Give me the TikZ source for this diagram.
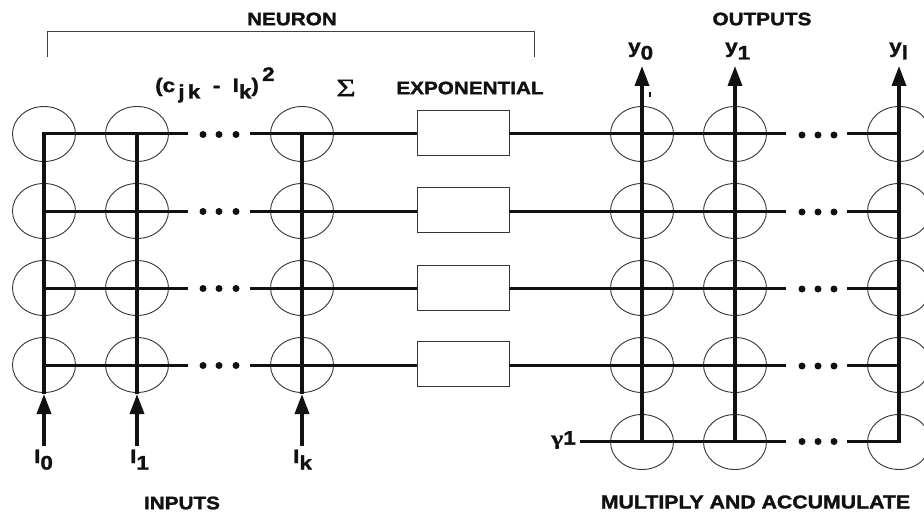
\documentclass[tikz,border=0pt]{standalone}
\usepackage{fontspec}
\setmainfont{Liberation Sans}[FakeStretch=1.15,FakeBold=1.6]
\newfontfamily\sigmafont{Liberation Serif}[FakeStretch=1.35,FakeBold=0.8]
\usetikzlibrary{shapes.geometric,arrows.meta}
\definecolor{ink}{HTML}{111111}
\newcommand{\lsub}[1]{\raisebox{-6.5pt}{#1}}
\newcommand{\lsup}[1]{\raisebox{11pt}{#1}}
\tikzset{
  cell/.style={draw=ink!85,ellipse,line width=0.9pt,minimum width=63pt,minimum height=55pt,inner sep=0pt},
  expbox/.style={draw=ink!85,rectangle,line width=0.9pt,minimum width=92pt,minimum height=45pt,inner sep=0pt},
  wire/.style={draw=ink,line width=3pt},
  bus/.style={draw=ink,line width=3.5pt},
  flow/.style={bus,-{Triangle[length=20pt,width=14pt]}},
  dot/.style={circle,fill=ink,inner sep=0pt,minimum size=7pt},
  lab/.style={font=\fontsize{18}{20}\selectfont\bfseries,text=ink,inner sep=0pt},
  sym/.style={font=\fontsize{19.5}{21}\selectfont\bfseries,text=ink,inner sep=0pt},
  bracket/.style={draw=ink!80,line width=0.9pt}
}
\begin{document}
\begin{tikzpicture}[x=1pt,y=-1pt]
\path[use as bounding box,clip] (0,0) rectangle (924,516);
\fill[white] (0,0) rectangle (924,516);
% cells
\foreach \r/\yy in {1/134,2/211,3/288,4/365}{
  \foreach \c/\xx in {1/44,2/137,3/302,4/642,5/735,6/899}{
    \node[cell] (c-\c-\r) at (\xx,\yy) {};
  }
}
\foreach \c/\xx in {4/642,5/735,6/899}{
  \node[cell] (c-\c-5) at (\xx,442) {};
}
% exponential boxes
\foreach \r/\yy in {1/133,2/210,3/287.5,4/364}{
  \node[expbox] (b-\r) at (463,\yy) {};
}
% row wires
\foreach \r in {1,2,3,4}{
  \coordinate (ga-\r) at (188,{134+77*(\r-1)});
  \coordinate (gb-\r) at (250,{134+77*(\r-1)});
  \coordinate (gc-\r) at (786,{134+77*(\r-1)});
  \coordinate (gd-\r) at (847,{134+77*(\r-1)});
  \draw[wire] (c-1-\r.center) -- (ga-\r);
  \draw[wire] (gb-\r) -- (b-\r.west |- gb-\r);
  \draw[wire] (b-\r.east |- gc-\r) -- (gc-\r);
  \draw[wire] (gd-\r) -- (c-6-\r.center);
  \foreach \x in {203,219,236}{\node[dot] at (\x,{134.5+77*(\r-1)}) {};}
  \foreach \x in {802,818,834}{\node[dot] at (\x,{135+77*(\r-1)}) {};}
}
% gamma row
\node[sym,anchor=east] (gamma) at (576,440) {\sigmafont γ\rmfamily 1};
\coordinate (g5a) at (786,441);
\coordinate (g5b) at (847,441);
\draw[wire] (gamma.east |- g5a) ++(4,0) -- (g5a);
\draw[wire] (g5b) -- (c-6-5.center |- g5b);
\foreach \x in {802,818,834}{\node[dot] at (\x,441.5) {};}
% input buses
\foreach \c/\xx in {1/44,2/137,3/302}{
  \coordinate (in-\c) at (\xx,446);
  \coordinate (tip-\c) at (\xx,394);
  \draw[bus] (tip-\c) -- (\xx,132.5);
  \draw[flow] (in-\c) -- (tip-\c);
}
% output buses
\foreach \c/\xx in {4/642,5/735,6/899}{
  \coordinate (out-\c) at (\xx,66);
  \draw[flow] (\xx,442.5) -- (out-\c);
}
% bracket
\coordinate (br-a) at (47,57);
\coordinate (br-b) at (47,31);
\coordinate (br-c) at (534,31);
\coordinate (br-d) at (534,57);
\draw[bracket] (br-a) -- (br-b) -- (br-c) -- (br-d);
% stray print mark
\fill[ink] (648.5,92) rectangle (650.5,97);
% labels
\node[lab] (neuron) at (292,19) {NEURON};
\node[lab] (outputs) at (762,19) {OUTPUTS};
\node[lab] (expo) at (470,88) {EXPONENTIAL};
\node[lab] (inputs) at (182,503) {INPUTS};
\node[lab,font=\fontsize{18.5}{20}\selectfont\bfseries] (mac) at (755.5,502) {MULTIPLY AND ACCUMULATE};
\node[sym,font=\fontsize{25}{26}\selectfont\sigmafont] (sum) at (346,88) {Σ};
\node[sym,anchor=base west] (form) at (155,92) {(c\lsub{\,j\,k}\ \ -\ \ I\lsub{k})\,\lsup{2}};
\node[sym,anchor=base west] (y0) at (628,53) {y\lsub{0}};
\node[sym,anchor=base west] (y1) at (725,53) {y\lsub{1}};
\node[sym,anchor=base west] (yl) at (889,53) {y\lsub{l}};
\node[sym,anchor=base west] (i0) at (34,463) {I\lsub{0}};
\node[sym,anchor=base west] (i1) at (130,463) {I\lsub{1}};
\node[sym,anchor=base west] (ik) at (293,463) {I\lsub{k}};
\end{tikzpicture}
\end{document}
